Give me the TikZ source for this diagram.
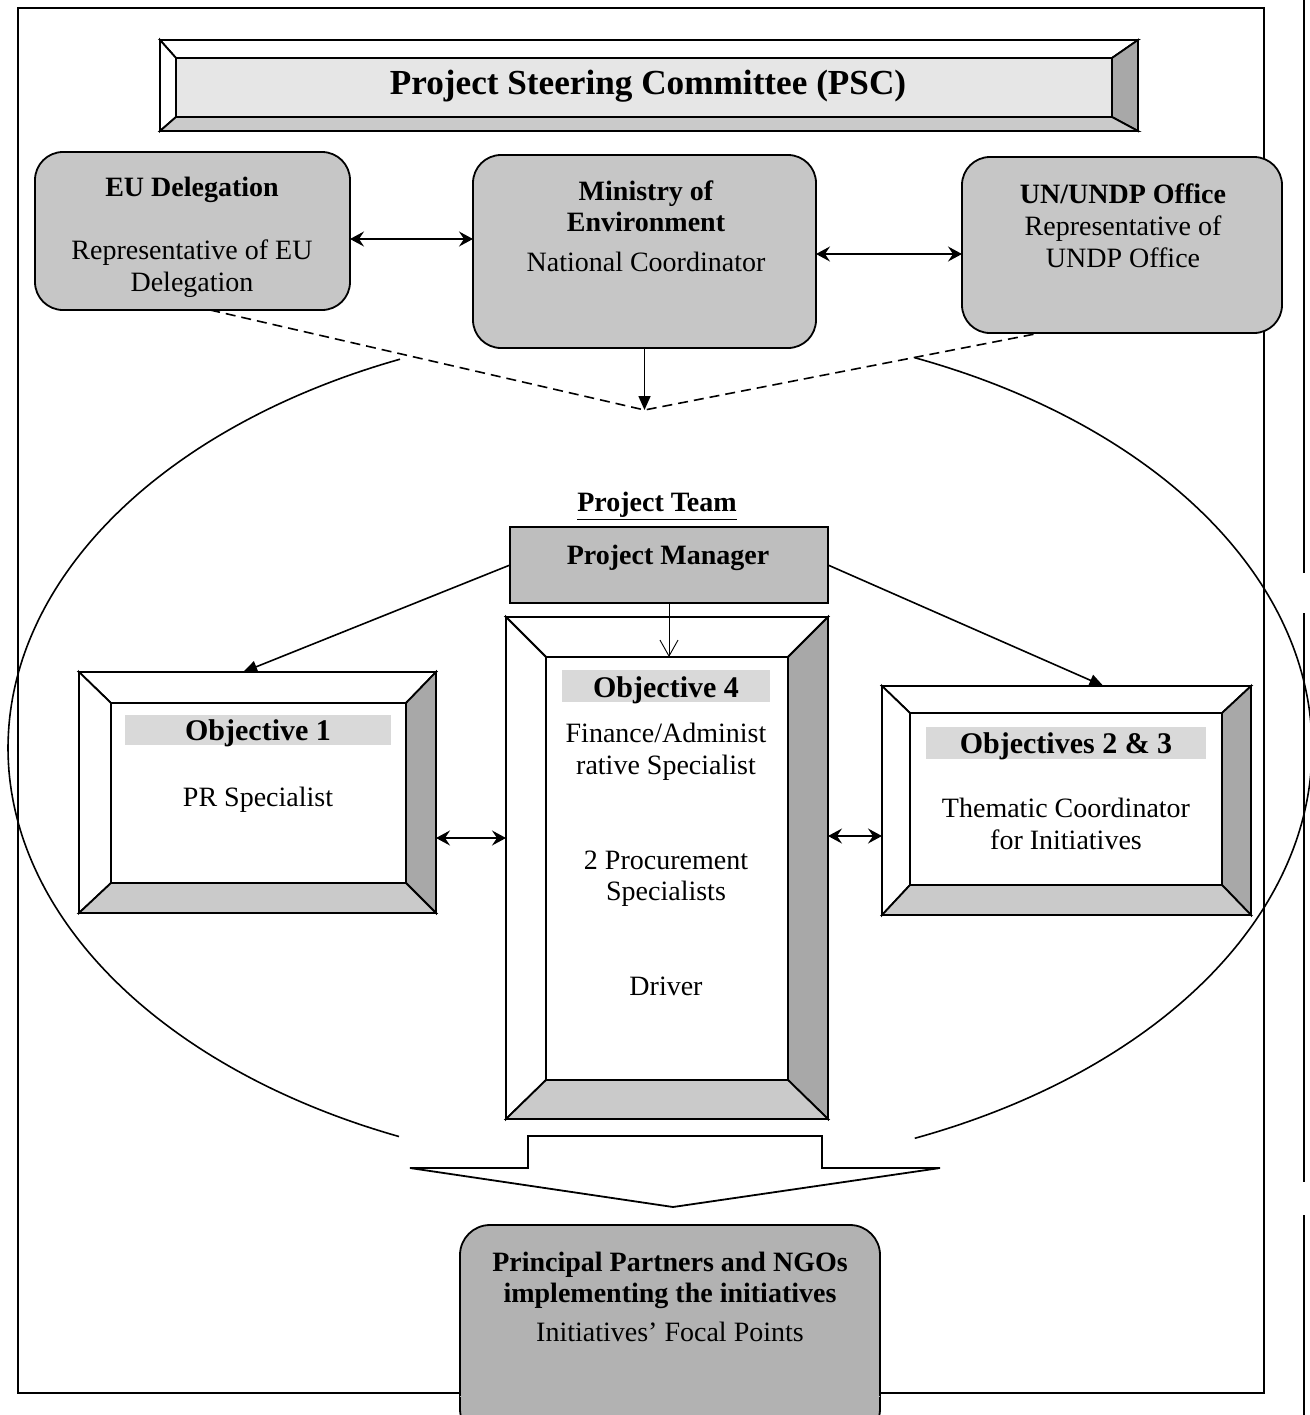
\documentclass[tikz,border=0pt]{standalone}
\usepackage{fontspec}
\setmainfont{Liberation Serif}
\usetikzlibrary{arrows.meta,calc}
\definecolor{boxgray}{HTML}{C6C6C6}
\definecolor{pmgray}{HTML}{BEBEBE}
\definecolor{bottomgray}{HTML}{B2B2B2}
\definecolor{pscfill}{HTML}{E6E6E6}
\definecolor{bevdark}{HTML}{A8A8A8}
\definecolor{bevmid}{HTML}{CACACA}
\definecolor{bandgray}{HTML}{D9D9D9}
\newcommand\bevelframe[5]{%
  \coordinate (#1-a) at ($(#1.north west)+(#2,#3)$);
  \coordinate (#1-b) at ($(#1.north east)+(-#4,#3)$);
  \coordinate (#1-c) at ($(#1.south east)+(-#4,-#5)$);
  \coordinate (#1-d) at ($(#1.south west)+(#2,-#5)$);
  \filldraw[fill=white] (#1.north west) -- (#1.north east) -- (#1-b) -- (#1-a) -- cycle;
  \filldraw[fill=white] (#1.north west) -- (#1-a) -- (#1-d) -- (#1.south west) -- cycle;
  \filldraw[fill=bevdark] (#1.north east) -- (#1.south east) -- (#1-c) -- (#1-b) -- cycle;
  \filldraw[fill=bevmid] (#1.south west) -- (#1-d) -- (#1-c) -- (#1.south east) -- cycle;
}
\newcommand\bodyfont{\fontsize{14}{16}\selectfont}
\newcommand\objfont{\fontsize{15}{17}\selectfont\bfseries}
\begin{document}
\begin{tikzpicture}[x=0.5pt,y=-0.5pt,line width=0.9pt,
  every node/.style={font=\bodyfont, inner sep=0pt, outer sep=0pt},
  rbox/.style={draw, line width=0.9pt, rounded corners=14pt, fill=boxgray},
  sqbox/.style={draw, line width=0.9pt, fill=white},
  titleband/.style={fill=bandgray, inner sep=0pt},
  lbl/.style={anchor=base},
  dbl/.style={line width=0.8pt, {Stealth[length=7pt,width=7.5pt,inset=2.5pt]}-{Stealth[length=7pt,width=7.5pt,inset=2.5pt]}},
  tri/.style={line width=0.8pt, -{Triangle[length=7pt,width=6pt]}},
  openarr/.style={line width=0.45pt, -{Straight Barb[length=8pt,width=9pt]}},
  dsh/.style={line width=0.8pt, dash pattern=on 5pt off 3pt}]
\path[use as bounding box, fill=white] (0,0) rectangle (1310,1415);

% outer frame and page-edge lines
\draw[line width=0.8pt] (18,8) rectangle (1264,1393);
\draw[line width=0.9pt] (1304,0) -- (1304,573) (1304,613) -- (1304,1182) (1304,1215) -- (1304,1415);

% PSC
\node[sqbox, fill=pscfill, minimum width=489pt, minimum height=45.5pt] (psc) at (649,85.5) {};
\bevelframe{psc}{16}{18}{26}{14}
\node[lbl, font=\fontsize{17.6}{20}\selectfont\bfseries] (pscT) at (648,94) {Project Steering Committee (PSC)};

% top three boxes
\node[rbox, minimum width=157.5pt, minimum height=79pt] (eu) at (192.5,231) {};
\node[lbl, font=\bodyfont\bfseries] (eu1) at (192,196) {EU Delegation};
\node[lbl] (eu2) at (192,259) {Representative of EU};
\node[lbl] (eu3) at (192,291) {Delegation};

\node[rbox, minimum width=171.5pt, minimum height=96.5pt] (min) at (644.5,251.5) {};
\node[lbl, font=\bodyfont\bfseries] (min1) at (646,200) {Ministry of};
\node[lbl, font=\bodyfont\bfseries] (min2) at (646,231) {Environment};
\node[lbl] (min3) at (646,271) {National Coordinator};

\node[rbox, minimum width=160pt, minimum height=88pt] (undp) at (1122,245) {};
\node[lbl, font=\bodyfont\bfseries] (un1) at (1123,203) {UN/UNDP Office};
\node[lbl] (un2) at (1123,235) {Representative of};
\node[lbl] (un3) at (1123,267) {UNDP Office};

\coordinate (a1) at ([yshift=-4pt]eu.east);
\draw[dbl] (a1) -- (a1 -| min.west);
\coordinate (a2) at ([yshift=-4.5pt]undp.west);
\draw[dbl] (a2 -| min.east) -- (a2);

% convergence point
\coordinate (v) at (644.5,410);
\draw[dsh] ($(eu.south west)!0.556!(eu.south east)$) -- (v) -- ($(undp.south west)!0.244!(undp.south east)$);
\draw[tri] (min.south) -- (v);

% big oval (broken at top and bottom)
\draw[line width=0.8pt, domain=293:427, samples=150, variable=\t] plot ({660+652*cos(\t)},{748+424*sin(\t)});
\draw[line width=0.8pt, domain=113.6:246.5, samples=150, variable=\t] plot ({660+652*cos(\t)},{748+424*sin(\t)});

% project team
\node[lbl, font=\bodyfont\bfseries] (team) at (657,511) {\underline{Project Team}};
\node[draw, fill=pmgray, minimum width=159pt, minimum height=38pt] (pm) at (669,565) {};
\node[lbl, font=\bodyfont\bfseries] (pmT) at (668,564) {Project Manager};

% Objective 1
\node[sqbox, minimum width=178.5pt, minimum height=120.5pt] (o1) at (257.5,792.5) {};
\bevelframe{o1}{32}{31}{30}{30}
\node[titleband, minimum width=133pt, minimum height=15pt] (o1b) at (258,730) {};
\node[lbl, font=\objfont] (o1t) at (258,740) {Objective 1};
\node[lbl] (o1x) at (258,806) {PR Specialist};

% Objective 4
\node[sqbox, minimum width=161pt, minimum height=251pt] (o4) at (667,868) {};
\bevelframe{o4}{40}{40}{40}{39}
\node[titleband, minimum width=104pt, minimum height=16pt] (o4b) at (666,686) {};
\node[lbl, font=\objfont] (o4t) at (666,697) {Objective 4};
\node[lbl] (o4x1) at (666,742) {Finance/Administ};
\node[lbl] (o4x2) at (666,774) {rative Specialist};
\node[lbl] (o4x3) at (666,869) {2 Procurement};
\node[lbl] (o4x4) at (666,900) {Specialists};
\node[lbl] (o4x5) at (666,995) {Driver};

% Objectives 2 & 3
\node[sqbox, minimum width=184.5pt, minimum height=114.5pt] (o23) at (1066.5,800.5) {};
\bevelframe{o23}{28}{27}{29}{30}
\node[titleband, minimum width=140pt, minimum height=16pt] (o23b) at (1066,742.5) {};
\node[lbl, font=\objfont] (o23t) at (1066,753) {Objectives 2 \& 3};
\node[lbl] (o23x1) at (1066,817) {Thematic Coordinator};
\node[lbl] (o23x2) at (1066,849) {for Initiatives};

% connectors from project manager
\draw[tri] (pm.west) -- ($(o1.north west)!0.46!(o1.north east)$);
\draw[tri] (pm.east) -- ($(o23.north west)!0.6!(o23.north east)$);
\draw[openarr] (pm.south) -- (pm.south |- o4-a);
\coordinate (a3) at ([yshift=-22.75pt]o1.east);
\draw[dbl] (a3) -- (a3 -| o4.west);
\coordinate (a4) at ([yshift=-17.75pt]o23.west);
\draw[dbl] (a4 -| o4.east) -- (a4);

% block arrow down
\draw[line width=0.9pt, fill=white] (528,1136) -- (822,1136) -- (822,1168) -- (940,1168) -- (673,1207) -- (410,1168) -- (528,1168) -- cycle;

% bottom box
\node[rbox, fill=bottomgray, rounded corners=15pt, minimum width=210pt, minimum height=107pt] (bb) at (670,1332) {};
\draw[black!30, line width=0.5pt] (bb.west |- 0,1396) -- (bb.east |- 0,1396);
\node[lbl, font=\bodyfont\bfseries] (bb1) at (670,1271) {Principal Partners and NGOs};
\node[lbl, font=\bodyfont\bfseries] (bb2) at (670,1302) {implementing the initiatives};
\node[lbl] (bb3) at (670,1341) {Initiatives’ Focal Points};
\end{tikzpicture}
\end{document}
